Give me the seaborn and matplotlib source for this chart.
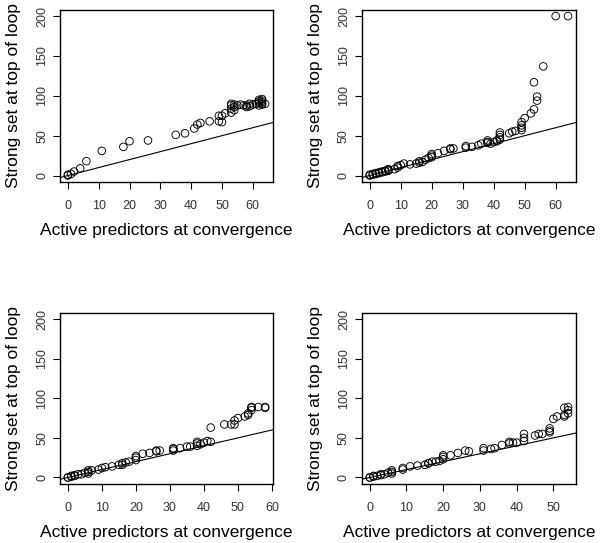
import matplotlib
matplotlib.use("Agg")
import matplotlib.pyplot as plt
from matplotlib.ticker import MultipleLocator
import pandas as pd
import seaborn as sns

# panel 1
active_1 = [0, 0, 1, 2, 4, 6, 11, 18, 20, 26, 35, 38, 41, 42, 43, 46, 49, 49, 50, 50,
            51, 53, 53, 53, 53, 54, 54, 54, 55, 56, 57, 58, 58, 59, 59, 60, 61, 62, 62,
            62, 62, 63, 63, 63, 63, 63, 64]
strong_1 = [0, 1, 2, 5, 9, 18, 31, 36, 43, 44, 51, 53, 59, 64, 66, 68, 68, 75, 67, 75,
            78, 79, 84, 88, 90, 82, 86, 89, 88, 89, 88, 86, 88, 87, 90, 89, 90, 91, 93,
            95, 88, 89, 92, 94, 96, 90, 90]

# panel 2
active_2 = [0, 0, 1, 1, 2, 2, 3, 3, 4, 4, 5, 5, 6, 6, 6, 8, 9, 9, 10, 11, 13, 15, 16, 16,
            17, 18, 19, 20, 20, 20, 22, 24, 26, 26, 27, 31, 31, 33, 35, 36, 38, 38, 38, 39,
            40, 41, 41, 42, 42, 42, 42, 45, 46, 47, 49, 49, 49, 49, 50, 52, 53, 53, 54, 54,
            56, 60, 64]
strong_2 = [0, 1, 2, 1, 3, 2, 4, 3, 5, 4, 5, 6, 6, 8, 7, 8, 10, 12, 13, 15, 14, 15, 16, 18,
            17, 20, 22, 23, 25, 27, 28, 31, 33, 34, 34, 37, 35, 36, 38, 40, 41, 44, 42, 40,
            42, 44, 43, 45, 48, 51, 54, 53, 55, 56, 57, 60, 63, 67, 72, 78, 83, 117, 94, 99,
            137, 200, 200]

# panel 3
active_3 = [0, 0, 1, 1, 2, 2, 3, 4, 5, 6, 6, 6, 7, 9, 10, 11, 13, 15, 16, 16, 17, 18, 20,
            20, 20, 22, 24, 26, 26, 27, 31, 31, 31, 33, 35, 36, 38, 38, 38, 39, 40, 41, 42,
            42, 46, 48, 49, 49, 50, 52, 53, 53, 54, 54, 54, 56, 58, 58]
strong_3 = [0, 0, 1, 2, 3, 2, 4, 4, 6, 5, 7, 9, 9, 10, 12, 13, 14, 16, 16, 18, 19, 20, 22,
            25, 27, 30, 31, 33, 34, 34, 34, 36, 37, 37, 39, 39, 40, 43, 45, 42, 44, 46, 45,
            63, 67, 67, 67, 72, 75, 77, 79, 81, 85, 88, 89, 89, 88, 89]

# panel 4
active_4 = [0, 0, 1, 1, 2, 3, 3, 4, 5, 6, 6, 6, 9, 9, 11, 13, 15, 16, 16, 17, 18, 19, 20,
            20, 20, 22, 24, 26, 27, 31, 31, 33, 34, 36, 38, 38, 39, 40, 42, 42, 42, 45, 46,
            47, 49, 49, 49, 50, 51, 53, 53, 53, 54, 54, 54]
strong_4 = [0, 0, 1, 2, 2, 3, 4, 4, 6, 5, 7, 9, 10, 12, 14, 15, 16, 18, 18, 20, 20, 21, 23,
            26, 28, 28, 31, 34, 33, 34, 37, 36, 37, 41, 43, 45, 44, 44, 46, 50, 55, 53, 55,
            55, 57, 59, 62, 74, 77, 77, 79, 88, 81, 85, 89]

x_label = "Active predictors at convergence"
y_label = "Strong set at top of loop"

panels = [(active_1, strong_1), (active_2, strong_2), (active_3, strong_3), (active_4, strong_4)]

sns.set_style("ticks")
plt.rcParams["font.family"] = ["Liberation Sans", "DejaVu Sans"]

fig = plt.figure(figsize=(6, 5.43), dpi=100)
boxes = [(0.100, 0.665, 0.355, 0.317), (0.603, 0.665, 0.357, 0.317),
         (0.100, 0.109, 0.355, 0.315), (0.603, 0.109, 0.357, 0.315)]

for (act, strong), box in zip(panels, boxes):
    ax = fig.add_axes(box)
    df = pd.DataFrame({"active": act, "strong": strong})
    sns.scatterplot(data=df, x="active", y="strong", ax=ax, marker="o", s=30,
                    facecolor="none", edgecolor="black", linewidth=0.65)
    ax.axline((0, 0), slope=1, color="black", lw=0.8)
    span = max(act)
    ax.set_xlim(-0.04 * span, 1.04 * span)
    ax.set_ylim(-8, 208)
    ax.xaxis.set_major_locator(MultipleLocator(10))
    ax.yaxis.set_major_locator(MultipleLocator(50))
    ax.tick_params(length=5, width=0.8, labelsize=9, colors="black", labelcolor="#333333")
    ax.tick_params(axis="x", pad=8)
    for lab in ax.get_yticklabels():
        lab.set_rotation(90)
        lab.set_va("center")
    for sp in ax.spines.values():
        sp.set_linewidth(1.0)
        sp.set_color("black")
    ax.set_xlabel(x_label, fontsize=12.5, labelpad=8, color="black")
    ax.set_ylabel(y_label, fontsize=12.5, labelpad=11, color="black")

fig.savefig("out.png", dpi=100)
